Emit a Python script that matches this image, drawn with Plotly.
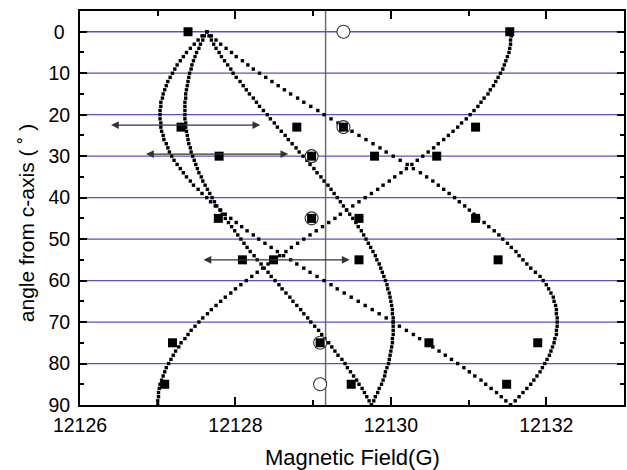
import plotly.graph_objects as go

# ---------------- data ----------------
curve_angles = [0, 1, 2, 3, 4, 5, 6, 7, 8, 9, 10, 11, 12, 13, 14, 15, 16, 17, 18, 19,
                20, 21, 22, 23, 24, 25, 26, 27, 28, 29, 30, 31, 32, 33, 34, 35, 36, 37, 38, 39,
                40, 41, 42, 43, 44, 45, 46, 47, 48, 49, 50, 51, 52, 53, 54, 55, 56, 57, 58, 59,
                60, 61, 62, 63, 64, 65, 66, 67, 68, 69, 70, 71, 72, 73, 74, 75, 76, 77, 78, 79,
                80, 81, 82, 83, 84, 85, 86, 87, 88, 89, 90]

curve_1 = [12127.63, 12127.69, 12127.75, 12127.81, 12127.88, 12127.95, 12128.01, 12128.09, 12128.16, 12128.23,
           12128.31, 12128.39, 12128.47, 12128.55, 12128.63, 12128.71, 12128.80, 12128.88, 12128.97, 12129.06,
           12129.14, 12129.23, 12129.32, 12129.41, 12129.50, 12129.59, 12129.68, 12129.77, 12129.86, 12129.94,
           12130.03, 12130.12, 12130.21, 12130.29, 12130.38, 12130.46, 12130.54, 12130.61, 12130.68, 12130.75,
           12130.82, 12130.88, 12130.95, 12131.01, 12131.07, 12131.13, 12131.20, 12131.26, 12131.33, 12131.39,
           12131.44, 12131.50, 12131.55, 12131.61, 12131.65, 12131.70, 12131.75, 12131.80, 12131.86, 12131.92,
           12131.96, 12132.00, 12132.03, 12132.06, 12132.09, 12132.10, 12132.12, 12132.13, 12132.13, 12132.14,
           12132.14, 12132.14, 12132.13, 12132.13, 12132.11, 12132.10, 12132.08, 12132.06, 12132.04, 12132.01,
           12131.98, 12131.95, 12131.92, 12131.88, 12131.84, 12131.80, 12131.75, 12131.70, 12131.65, 12131.60,
           12131.54]

curve_2 = [12127.63, 12127.57, 12127.52, 12127.47, 12127.42, 12127.37, 12127.33, 12127.29, 12127.25, 12127.22,
           12127.19, 12127.16, 12127.13, 12127.11, 12127.09, 12127.07, 12127.06, 12127.04, 12127.04, 12127.03,
           12127.03, 12127.03, 12127.04, 12127.04, 12127.05, 12127.07, 12127.08, 12127.11, 12127.13, 12127.15,
           12127.18, 12127.21, 12127.25, 12127.29, 12127.33, 12127.37, 12127.42, 12127.46, 12127.52, 12127.57,
           12127.63, 12127.68, 12127.74, 12127.81, 12127.87, 12127.94, 12128.01, 12128.08, 12128.15, 12128.23,
           12128.30, 12128.38, 12128.46, 12128.54, 12128.62, 12128.71, 12128.79, 12128.88, 12128.96, 12129.05,
           12129.14, 12129.23, 12129.31, 12129.40, 12129.49, 12129.58, 12129.67, 12129.76, 12129.85, 12129.94,
           12130.03, 12130.11, 12130.20, 12130.29, 12130.37, 12130.46, 12130.54, 12130.62, 12130.70, 12130.78,
           12130.86, 12130.94, 12131.01, 12131.08, 12131.16, 12131.22, 12131.29, 12131.36, 12131.42, 12131.48,
           12131.54]

curve_3 = [12127.63, 12127.66, 12127.69, 12127.72, 12127.75, 12127.79, 12127.82, 12127.86, 12127.90, 12127.94,
           12127.97, 12128.01, 12128.06, 12128.10, 12128.14, 12128.18, 12128.23, 12128.27, 12128.31, 12128.36,
           12128.41, 12128.45, 12128.50, 12128.54, 12128.59, 12128.64, 12128.68, 12128.73, 12128.78, 12128.82,
           12128.87, 12128.92, 12128.96, 12129.01, 12129.05, 12129.10, 12129.14, 12129.19, 12129.23, 12129.27,
           12129.31, 12129.35, 12129.39, 12129.43, 12129.47, 12129.51, 12129.55, 12129.58, 12129.62, 12129.65,
           12129.68, 12129.71, 12129.74, 12129.77, 12129.80, 12129.82, 12129.85, 12129.87, 12129.89, 12129.91,
           12129.93, 12129.95, 12129.96, 12129.98, 12129.99, 12130.00, 12130.01, 12130.02, 12130.02, 12130.03,
           12130.03, 12130.03, 12130.03, 12130.03, 12130.02, 12130.02, 12130.01, 12130.00, 12129.99, 12129.98,
           12129.97, 12129.95, 12129.93, 12129.92, 12129.90, 12129.88, 12129.85, 12129.83, 12129.80, 12129.78,
           12129.75]

curve_4 = [12127.63, 12127.60, 12127.58, 12127.55, 12127.53, 12127.50, 12127.48, 12127.46, 12127.44, 12127.43,
           12127.41, 12127.40, 12127.39, 12127.38, 12127.37, 12127.36, 12127.36, 12127.35, 12127.35, 12127.35,
           12127.35, 12127.35, 12127.36, 12127.36, 12127.37, 12127.38, 12127.39, 12127.40, 12127.42, 12127.43,
           12127.45, 12127.47, 12127.49, 12127.51, 12127.53, 12127.56, 12127.58, 12127.61, 12127.64, 12127.67,
           12127.70, 12127.73, 12127.76, 12127.80, 12127.83, 12127.87, 12127.91, 12127.95, 12127.99, 12128.03,
           12128.07, 12128.11, 12128.15, 12128.19, 12128.24, 12128.28, 12128.33, 12128.37, 12128.42, 12128.46,
           12128.51, 12128.56, 12128.60, 12128.65, 12128.70, 12128.74, 12128.79, 12128.84, 12128.88, 12128.93,
           12128.97, 12129.02, 12129.07, 12129.11, 12129.15, 12129.20, 12129.24, 12129.28, 12129.32, 12129.37,
           12129.41, 12129.44, 12129.48, 12129.52, 12129.56, 12129.59, 12129.63, 12129.66, 12129.69, 12129.72,
           12129.75]

curve_5 = [12131.55, 12131.55, 12131.54, 12131.54, 12131.53, 12131.52, 12131.50, 12131.48, 12131.46, 12131.44,
           12131.41, 12131.38, 12131.35, 12131.32, 12131.28, 12131.25, 12131.20, 12131.16, 12131.12, 12131.07,
           12131.02, 12130.97, 12130.91, 12130.86, 12130.80, 12130.74, 12130.68, 12130.61, 12130.55, 12130.48,
           12130.41, 12130.34, 12130.27, 12130.20, 12130.13, 12130.05, 12129.98, 12129.90, 12129.83, 12129.75,
           12129.67, 12129.59, 12129.51, 12129.43, 12129.35, 12129.28, 12129.20, 12129.12, 12129.04, 12128.96,
           12128.88, 12128.80, 12128.72, 12128.65, 12128.57, 12128.50, 12128.42, 12128.35, 12128.28, 12128.21,
           12128.14, 12128.07, 12128.00, 12127.94, 12127.87, 12127.81, 12127.75, 12127.69, 12127.64, 12127.58,
           12127.53, 12127.48, 12127.43, 12127.39, 12127.35, 12127.30, 12127.27, 12127.23, 12127.20, 12127.17,
           12127.14, 12127.11, 12127.09, 12127.07, 12127.05, 12127.03, 12127.02, 12127.01, 12127.01, 12127.00,
           12127.00]

square_field = [12127.39, 12131.53,
                12127.30, 12128.79, 12129.39, 12131.09,
                12127.79, 12128.98, 12129.79, 12130.59,
                12127.78, 12128.98, 12129.59, 12131.09,
                12128.09, 12128.49, 12129.59, 12131.38,
                12127.19, 12129.09, 12130.49, 12131.89,
                12127.09, 12129.49, 12131.49]
square_angle = [0, 0,
                23, 23, 23, 23,
                30, 30, 30, 30,
                45, 45, 45, 45,
                55, 55, 55, 55,
                75, 75, 75, 75,
                85, 85, 85]

circle_field = [12129.39, 12129.39, 12128.98, 12128.98, 12129.09, 12129.09]
circle_angle = [0, 23, 30, 45, 75, 85]

arrow_angle = [22.5, 29.5, 55]
arrow_left = [12126.38, 12126.83, 12127.57]
arrow_right = [12128.32, 12128.68, 12129.47]

vertical_line_field = 12129.16

grid_angles = [0, 10, 20, 30, 40, 50, 60, 70, 80]

x_range = [12126, 12133]
y_range = [90, -5]
x_tick_vals = [12126, 12128, 12130, 12132]
x_tick_text = ["12126", "12128", "12130", "12132"]
y_tick_vals = [0, 10, 20, 30, 40, 50, 60, 70, 80, 90]
y_tick_text = ["0\u00a0", "10", "20", "30", "40", "50", "60", "70", "80", "90"]

x_title = "Magnetic Field(G)"
y_title = "angle from c-axis ( \u02da )"

# ---------------- figure ----------------
FONT = "Liberation Sans, Arial, Helvetica, sans-serif"
fig = go.Figure()

# horizontal reference lines spanning the x-axis range (trace -> smooth, uniform colour)
grid_x, grid_y = [], []
for g in grid_angles:
    grid_x += [x_range[0], x_range[1], None]
    grid_y += [g, g, None]
fig.add_trace(go.Scatter(
    x=grid_x, y=grid_y, mode="lines",
    line=dict(color="#5a50c0", width=1.3),
    hoverinfo="skip", showlegend=False))

for cv in [curve_1, curve_2, curve_3, curve_4, curve_5]:
    fig.add_trace(go.Scatter(
        x=cv, y=curve_angles, mode="markers",
        marker=dict(symbol="square", size=3.4, color="black", line=dict(width=0)),
        hoverinfo="skip", showlegend=False))

fig.add_trace(go.Scatter(
    x=circle_field, y=circle_angle, mode="markers",
    marker=dict(symbol="circle", size=13, color="white",
                line=dict(width=1.1, color="#333333")),
    showlegend=False))

fig.add_trace(go.Scatter(
    x=square_field, y=square_angle, mode="markers",
    marker=dict(symbol="square", size=9, color="black", line=dict(width=0)),
    showlegend=False))

fig.add_shape(type="line", x0=vertical_line_field, x1=vertical_line_field,
              xref="x", yref="paper", y0=0, y1=1,
              line=dict(color="#6e6e6e", width=1.5), layer="between")

annotations = []
for ya, xl, xr in zip(arrow_angle, arrow_left, arrow_right):
    annotations.append(dict(
        x=xr, y=ya, ax=xl, ay=ya, xref="x", yref="y", axref="x", ayref="y",
        text="", showarrow=True, arrowhead=2, startarrowhead=2,
        arrowside="end+start", arrowsize=1.3, startarrowsize=1.3,
        arrowwidth=1.2, arrowcolor="#333333", standoff=0, startstandoff=0))

annotations.append(dict(
    text=x_title, xref="paper", yref="paper", x=0.5, y=-0.134,
    xanchor="center", yanchor="middle", showarrow=False,
    font=dict(family=FONT, size=22, color="black")))
annotations.append(dict(
    text=y_title, xref="paper", yref="paper", x=-0.097, y=0.462,
    xanchor="center", yanchor="middle", showarrow=False, textangle=-90,
    font=dict(family=FONT, size=21, color="black")))

fig.update_layout(
    width=627, height=470,
    margin=dict(l=80, r=1, t=11, b=65, pad=0),
    paper_bgcolor="white", plot_bgcolor="white",
    font=dict(family=FONT, size=20, color="black"),
    showlegend=False,
    annotations=annotations,
    xaxis=dict(
        range=x_range, tickmode="array", tickvals=x_tick_vals, ticktext=x_tick_text,
        ticks="inside", ticklen=8, tickwidth=1.5, tickcolor="black",
        minor=dict(tickmode="linear", tick0=12127, dtick=2, ticks="inside", ticklen=5,
                   tickwidth=1.5, tickcolor="black", showgrid=False),
        showline=True, linewidth=2, linecolor="black", mirror="ticks",
        showgrid=False, zeroline=False,
        tickfont=dict(family=FONT, size=19.5, color="black"),
        ticklabelstandoff=2,
    ),
    yaxis=dict(
        range=y_range, tickmode="array", tickvals=y_tick_vals, ticktext=y_tick_text,
        ticks="inside", ticklen=7, tickwidth=1.5, tickcolor="black",
        minor=dict(tickmode="linear", tick0=5, dtick=10, ticks="inside", ticklen=4,
                   tickwidth=1.5, tickcolor="black", showgrid=False),
        showline=True, linewidth=2, linecolor="black", mirror="ticks",
        showgrid=False, zeroline=False,
        tickfont=dict(family=FONT, size=19.5, color="black"),
        ticklabelstandoff=4,
    ),
)

fig.write_html("out.html")
